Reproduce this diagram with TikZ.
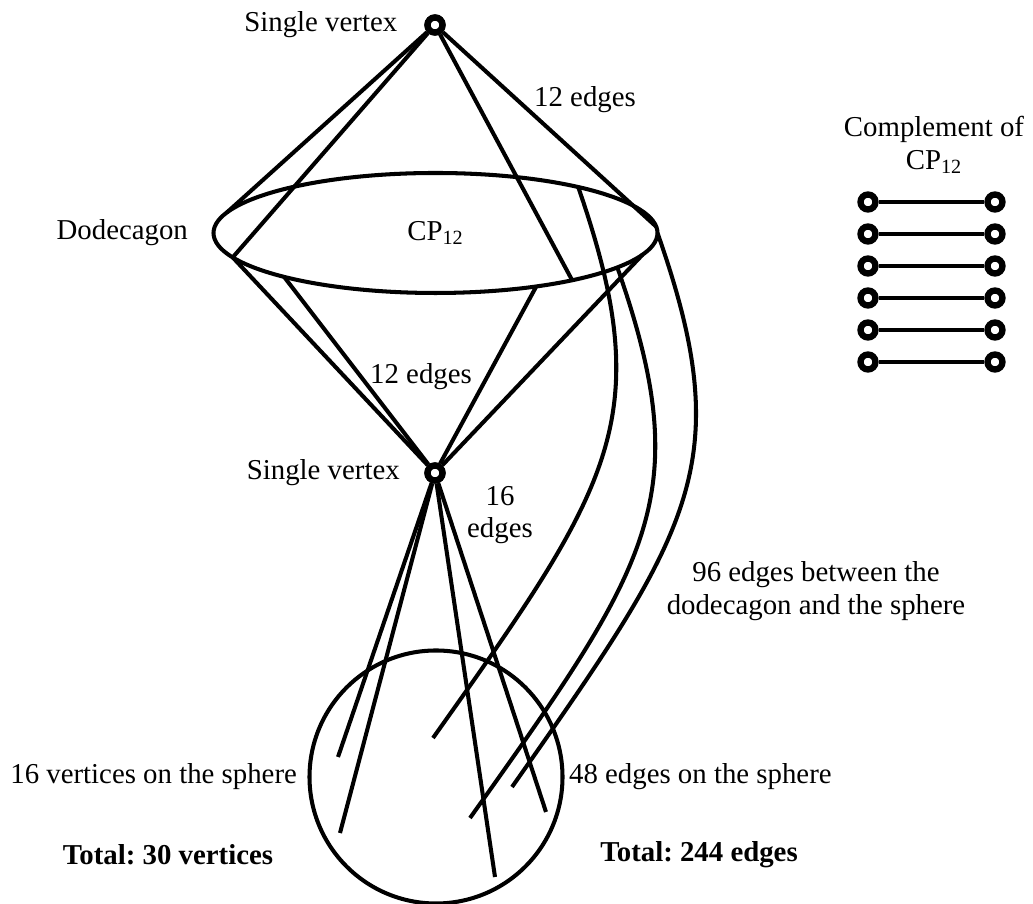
\documentclass[tikz,border=0pt]{standalone}
\usepackage{fontspec}
\setmainfont{Liberation Serif}
\usetikzlibrary{positioning, shapes.geometric, calc}
\frenchspacing

\begin{document}
\begin{tikzpicture}[
      edge/.style={line width=2.3pt},
      vert/.style={draw, circle, fill=white, line width=3.6pt, inner sep=0pt,
                   minimum size=0.3cm},
      lbl/.style={font=\fontsize{16.4}{18.5}\selectfont, inner sep=1pt},
      total/.style={font=\fontsize{16.4}{18.5}\selectfont\bfseries, inner sep=1pt}]
    \useasboundingbox (0,0) rectangle (20.66,18.08);
    \node[lbl, ellipse, draw, line width=2.3pt, inner sep=0pt,
          minimum width=8.88cm, minimum height=2.4cm] (dodec) at (8.71,13.42)
          {CP\textsubscript{12}};
    \foreach \a/\n in {160/tl, 204/ll, 6/tr, -52/tb, 227/bl, -63/bb, -21/br,
                       50/k1, -35/k2, 0/k3} {
      \coordinate (d-\n) at ($(dodec.center)+(\a:4.44 and 1.2)$);
    }
    \node[vert] (top) at (8.70,17.58) {};
    \node[vert] (bot) at (8.70,8.62) {};
    \node[circle, draw, line width=2.3pt, inner sep=0pt, minimum size=5.06cm]
          (sphere) at (8.72,2.54) {};
    \coordinate (s1) at (6.76,2.94);
    \coordinate (s2) at (6.80,1.42);
    \coordinate (s3) at (9.90,0.54);
    \coordinate (s4) at (10.92,1.84);
    \coordinate (e1) at (8.66,3.32);
    \coordinate (e2) at (9.40,1.72);
    \coordinate (e3) at (10.24,2.34);
    \foreach \n in {tl, ll, tr, tb} \draw[edge] (top) -- (d-\n);
    \foreach \n in {ll, bl, bb, br} \draw[edge] (bot) -- (d-\n);
    \foreach \i in {1,...,4} \draw[edge] (bot) -- (s\i);
    \draw[edge] (d-k1) .. controls (13.17,9.71) and (12.25,8.38) .. (e1);
    \draw[edge] (d-k2) .. controls (13.95,8.15) and (13.03,6.82) .. (e2);
    \draw[edge] (d-k3) .. controls (14.77,8.81) and (13.85,7.48) .. (e3);
    \node[vert] at (top) {};
    \node[vert] at (bot) {};
    \node[lbl, align=center] (comp) at (18.68,15.18) {Complement of\\CP\textsubscript{12}};
    \foreach \i in {1,...,6} {
      \node[vert] (cl\i) at (17.36,{14.68-0.64*\i}) {};
      \node[vert] (cr\i) at (19.90,{14.68-0.64*\i}) {};
      \draw[edge] (cl\i) -- (cr\i);
    }
    \node[lbl, left=0.5cm of top] (topname) {Single vertex};
    \node[lbl, left=0.45cm of bot] (botname) {Single vertex};
    \node[lbl, left=0.43cm of dodec] (dodecname) {Dodecagon};
    \node[lbl] (topcount) at (11.70,16.08) {12 edges};
    \node[lbl] (botcount) at (8.42,10.54) {12 edges};
    \node[lbl, align=center] (downcount) at (10.0,7.78) {16\\edges};
    \node[lbl, align=center] (between) at (16.32,6.26)
          {96 edges between the\\dodecagon and the sphere};
    \node[lbl, left=0.17cm of sphere] (onvert) {16 vertices on the sphere};
    \node[lbl, right=0.05cm of sphere] (onedge) {48 edges on the sphere};
    \node[total] (totvert) at (3.36,0.98) {Total: 30 vertices};
    \node[total] (totedge) at (13.98,0.98) {Total: 244 edges};
  \end{tikzpicture}
\end{document}
